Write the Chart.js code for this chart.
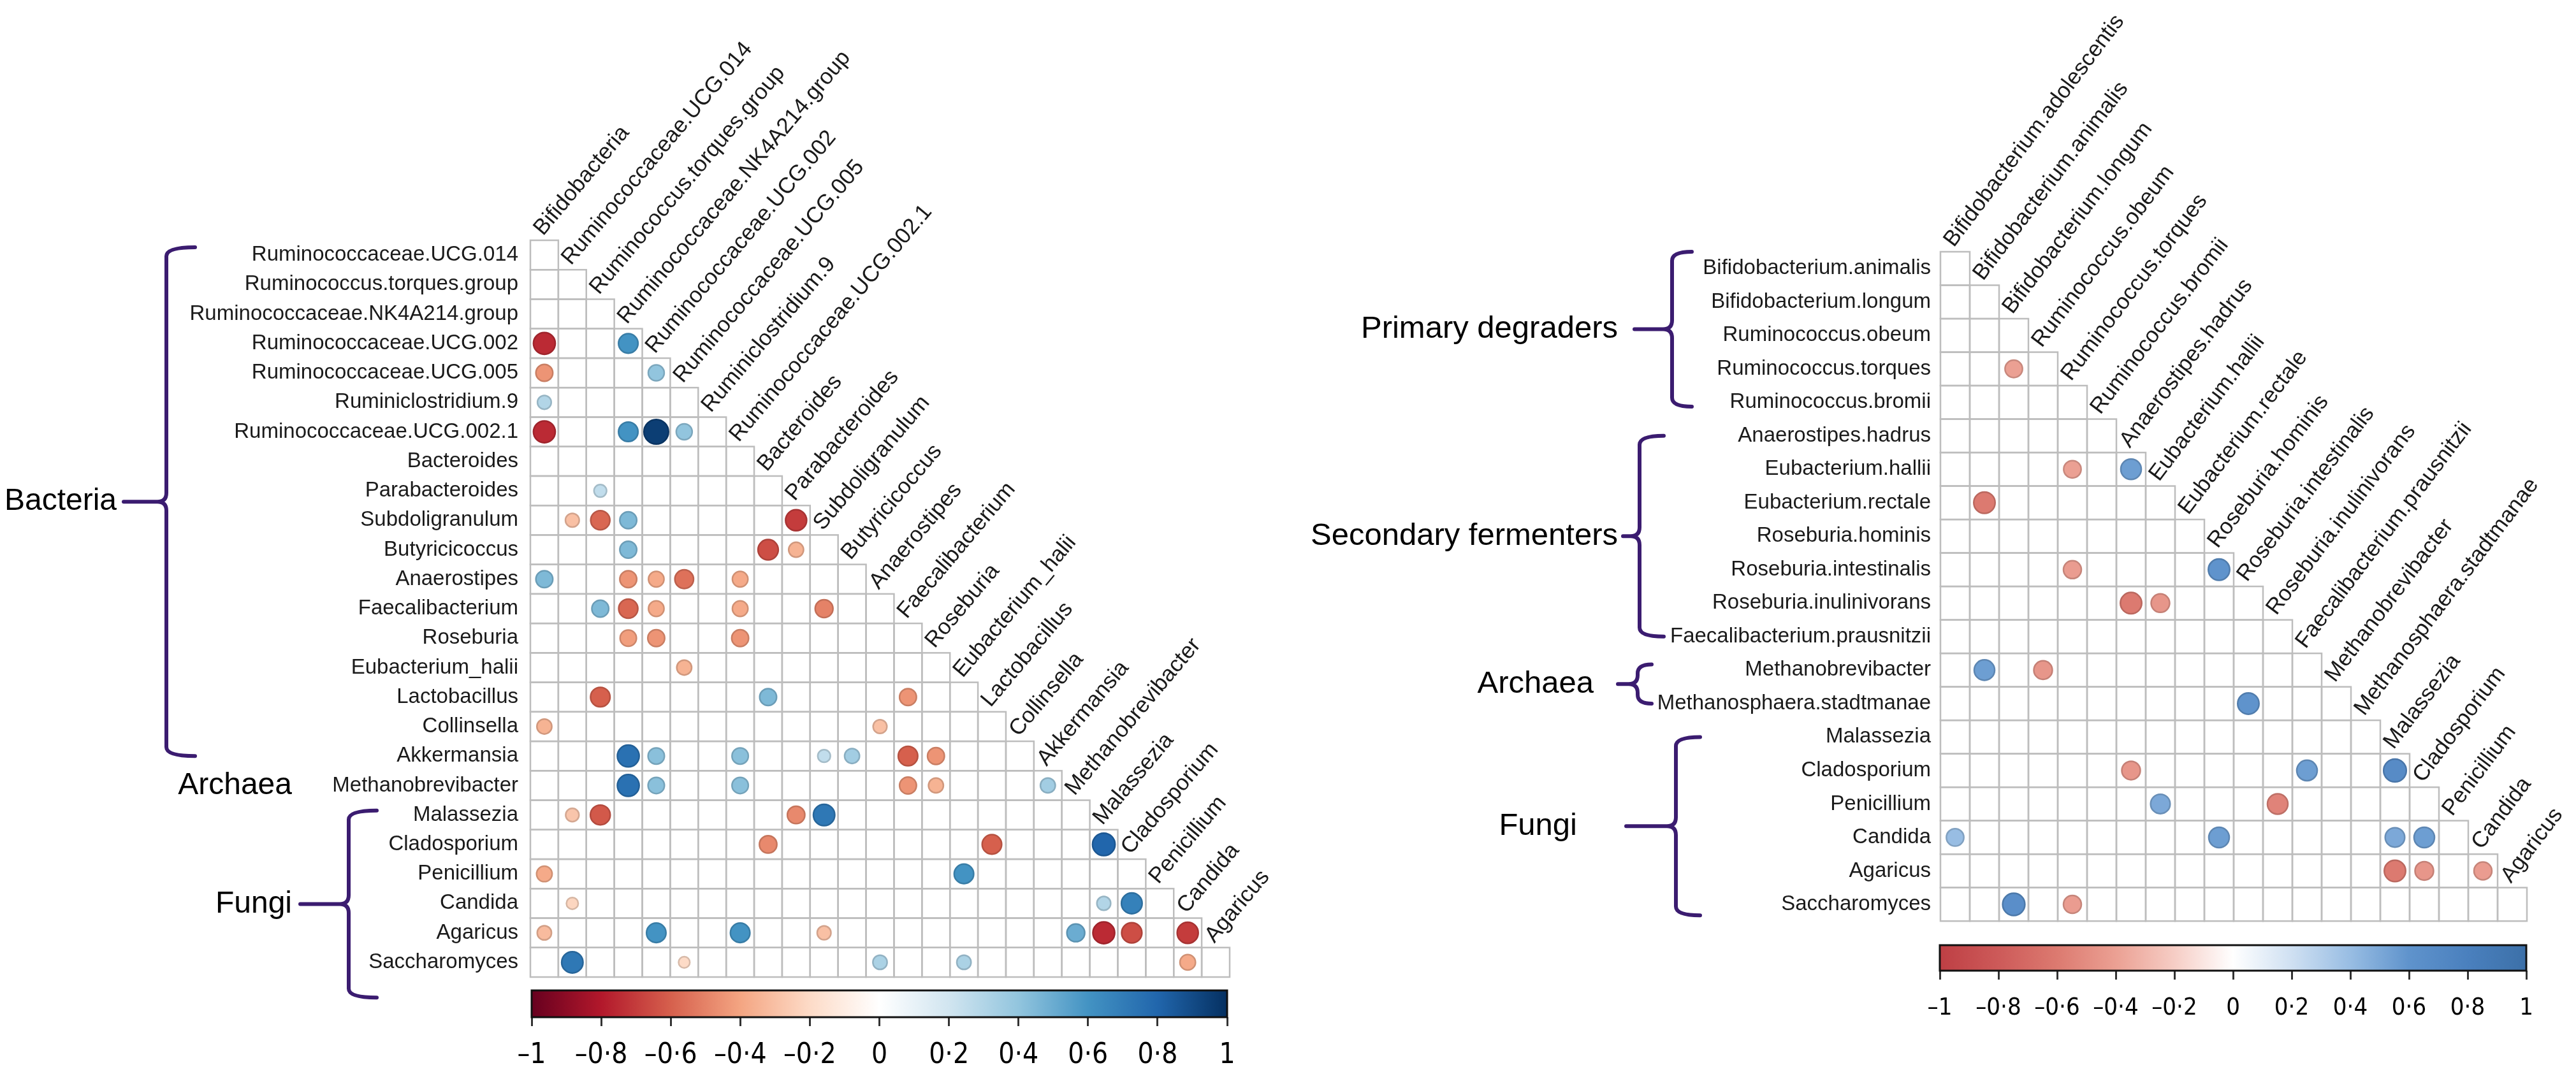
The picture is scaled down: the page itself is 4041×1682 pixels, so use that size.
<!DOCTYPE html>
<html>
<head>
<meta charset="utf-8">
<title>Correlation matrices</title>
<script src="https://cdn.jsdelivr.net/npm/chart.js"></script>
<style>
  html, body { margin: 0; padding: 0; background: #fff; }
  body { width: 4041px; height: 1682px; position: relative; overflow: hidden; }
  canvas { position: absolute; }
</style>
</head>
<body>
<canvas id="leftMatrix"></canvas>
<canvas id="rightMatrix"></canvas>
<canvas id="leftBar"></canvas>
<canvas id="rightBar"></canvas>
<script>
// ---------- data: left panel (genus level) ----------
const leftCols = [
  'Bifidobacteria', 'Ruminococcaceae.UCG.014', 'Ruminococcus.torques.group',
  'Ruminococcaceae.NK4A214.group', 'Ruminococcaceae.UCG.002', 'Ruminococcaceae.UCG.005',
  'Ruminiclostridium.9', 'Ruminococcaceae.UCG.002.1', 'Bacteroides', 'Parabacteroides',
  'Subdoligranulum', 'Butyricicoccus', 'Anaerostipes', 'Faecalibacterium', 'Roseburia',
  'Eubacterium_halii', 'Lactobacillus', 'Collinsella', 'Akkermansia', 'Methanobrevibacter',
  'Malassezia', 'Cladosporium', 'Penicillium', 'Candida', 'Agaricus'
];
const leftRows = [
  'Ruminococcaceae.UCG.014', 'Ruminococcus.torques.group', 'Ruminococcaceae.NK4A214.group',
  'Ruminococcaceae.UCG.002', 'Ruminococcaceae.UCG.005', 'Ruminiclostridium.9',
  'Ruminococcaceae.UCG.002.1', 'Bacteroides', 'Parabacteroides', 'Subdoligranulum',
  'Butyricicoccus', 'Anaerostipes', 'Faecalibacterium', 'Roseburia', 'Eubacterium_halii',
  'Lactobacillus', 'Collinsella', 'Akkermansia', 'Methanobrevibacter', 'Malassezia',
  'Cladosporium', 'Penicillium', 'Candida', 'Agaricus', 'Saccharomyces'
];
// [row, column, correlation]
const leftCorr = [
  ['Ruminococcaceae.UCG.002', 'Bifidobacteria', -0.75],
  ['Ruminococcaceae.UCG.002', 'Ruminococcaceae.NK4A214.group', 0.6],
  ['Ruminococcaceae.UCG.005', 'Bifidobacteria', -0.45],
  ['Ruminococcaceae.UCG.005', 'Ruminococcaceae.UCG.002', 0.4],
  ['Ruminiclostridium.9', 'Bifidobacteria', 0.3],
  ['Ruminococcaceae.UCG.002.1', 'Bifidobacteria', -0.75],
  ['Ruminococcaceae.UCG.002.1', 'Ruminococcaceae.NK4A214.group', 0.6],
  ['Ruminococcaceae.UCG.002.1', 'Ruminococcaceae.UCG.002', 0.95],
  ['Ruminococcaceae.UCG.002.1', 'Ruminococcaceae.UCG.005', 0.4],
  ['Parabacteroides', 'Ruminococcus.torques.group', 0.25],
  ['Subdoligranulum', 'Ruminococcaceae.UCG.014', -0.3],
  ['Subdoligranulum', 'Ruminococcus.torques.group', -0.58],
  ['Subdoligranulum', 'Ruminococcaceae.NK4A214.group', 0.45],
  ['Subdoligranulum', 'Parabacteroides', -0.7],
  ['Butyricicoccus', 'Ruminococcaceae.NK4A214.group', 0.45],
  ['Butyricicoccus', 'Bacteroides', -0.65],
  ['Butyricicoccus', 'Parabacteroides', -0.35],
  ['Anaerostipes', 'Bifidobacteria', 0.45],
  ['Anaerostipes', 'Ruminococcaceae.NK4A214.group', -0.45],
  ['Anaerostipes', 'Ruminococcaceae.UCG.002', -0.38],
  ['Anaerostipes', 'Ruminococcaceae.UCG.005', -0.55],
  ['Anaerostipes', 'Ruminococcaceae.UCG.002.1', -0.38],
  ['Faecalibacterium', 'Ruminococcus.torques.group', 0.45],
  ['Faecalibacterium', 'Ruminococcaceae.NK4A214.group', -0.58],
  ['Faecalibacterium', 'Ruminococcaceae.UCG.002', -0.38],
  ['Faecalibacterium', 'Ruminococcaceae.UCG.002.1', -0.38],
  ['Faecalibacterium', 'Subdoligranulum', -0.5],
  ['Roseburia', 'Ruminococcaceae.NK4A214.group', -0.42],
  ['Roseburia', 'Ruminococcaceae.UCG.002', -0.45],
  ['Roseburia', 'Ruminococcaceae.UCG.002.1', -0.45],
  ['Eubacterium_halii', 'Ruminococcaceae.UCG.005', -0.35],
  ['Lactobacillus', 'Ruminococcus.torques.group', -0.6],
  ['Lactobacillus', 'Bacteroides', 0.45],
  ['Lactobacillus', 'Faecalibacterium', -0.45],
  ['Collinsella', 'Bifidobacteria', -0.35],
  ['Collinsella', 'Anaerostipes', -0.3],
  ['Akkermansia', 'Ruminococcaceae.NK4A214.group', 0.75],
  ['Akkermansia', 'Ruminococcaceae.UCG.002', 0.42],
  ['Akkermansia', 'Ruminococcaceae.UCG.002.1', 0.42],
  ['Akkermansia', 'Subdoligranulum', 0.25],
  ['Akkermansia', 'Butyricicoccus', 0.35],
  ['Akkermansia', 'Faecalibacterium', -0.6],
  ['Akkermansia', 'Roseburia', -0.45],
  ['Methanobrevibacter', 'Ruminococcaceae.NK4A214.group', 0.75],
  ['Methanobrevibacter', 'Ruminococcaceae.UCG.002', 0.42],
  ['Methanobrevibacter', 'Ruminococcaceae.UCG.002.1', 0.42],
  ['Methanobrevibacter', 'Faecalibacterium', -0.45],
  ['Methanobrevibacter', 'Roseburia', -0.35],
  ['Methanobrevibacter', 'Akkermansia', 0.35],
  ['Malassezia', 'Ruminococcaceae.UCG.014', -0.28],
  ['Malassezia', 'Ruminococcus.torques.group', -0.62],
  ['Malassezia', 'Parabacteroides', -0.48],
  ['Malassezia', 'Subdoligranulum', 0.72],
  ['Cladosporium', 'Bacteroides', -0.48],
  ['Cladosporium', 'Lactobacillus', -0.6],
  ['Cladosporium', 'Malassezia', 0.8],
  ['Penicillium', 'Bifidobacteria', -0.38],
  ['Penicillium', 'Eubacterium_halii', 0.6],
  ['Candida', 'Ruminococcaceae.UCG.014', -0.22],
  ['Candida', 'Malassezia', 0.3],
  ['Candida', 'Cladosporium', 0.68],
  ['Agaricus', 'Bifidobacteria', -0.32],
  ['Agaricus', 'Ruminococcaceae.UCG.002', 0.6],
  ['Agaricus', 'Ruminococcaceae.UCG.002.1', 0.6],
  ['Agaricus', 'Subdoligranulum', -0.3],
  ['Agaricus', 'Methanobrevibacter', 0.5],
  ['Agaricus', 'Malassezia', -0.75],
  ['Agaricus', 'Cladosporium', -0.65],
  ['Agaricus', 'Candida', -0.7],
  ['Saccharomyces', 'Ruminococcaceae.UCG.014', 0.72],
  ['Saccharomyces', 'Ruminococcaceae.UCG.005', -0.2],
  ['Saccharomyces', 'Anaerostipes', 0.32],
  ['Saccharomyces', 'Eubacterium_halii', 0.32],
  ['Saccharomyces', 'Candida', -0.38]
];
const leftGroups = [
  { label: 'Bacteria', from: 'Ruminococcaceae.UCG.014', to: 'Akkermansia' },
  { label: 'Archaea', from: 'Methanobrevibacter', to: 'Methanobrevibacter' },
  { label: 'Fungi', from: 'Malassezia', to: 'Saccharomyces' }
];

// ---------- data: right panel (species level) ----------
const rightCols = [
  'Bifidobacterium.adolescentis', 'Bifidobacterium.animalis', 'Bifidobacterium.longum',
  'Ruminococcus.obeum', 'Ruminococcus.torques', 'Ruminococcus.bromii', 'Anaerostipes.hadrus',
  'Eubacterium.hallii', 'Eubacterium.rectale', 'Roseburia.hominis', 'Roseburia.intestinalis',
  'Roseburia.inulinivorans', 'Faecalibacterium.prausnitzii', 'Methanobrevibacter',
  'Methanosphaera.stadtmanae', 'Malassezia', 'Cladosporium', 'Penicillium', 'Candida', 'Agaricus'
];
const rightRows = [
  'Bifidobacterium.animalis', 'Bifidobacterium.longum', 'Ruminococcus.obeum',
  'Ruminococcus.torques', 'Ruminococcus.bromii', 'Anaerostipes.hadrus', 'Eubacterium.hallii',
  'Eubacterium.rectale', 'Roseburia.hominis', 'Roseburia.intestinalis', 'Roseburia.inulinivorans',
  'Faecalibacterium.prausnitzii', 'Methanobrevibacter', 'Methanosphaera.stadtmanae',
  'Malassezia', 'Cladosporium', 'Penicillium', 'Candida', 'Agaricus', 'Saccharomyces'
];
const rightCorr = [
  ['Ruminococcus.torques', 'Bifidobacterium.longum', -0.4],
  ['Eubacterium.hallii', 'Ruminococcus.torques', -0.4],
  ['Eubacterium.hallii', 'Anaerostipes.hadrus', 0.55],
  ['Eubacterium.rectale', 'Bifidobacterium.animalis', -0.6],
  ['Roseburia.intestinalis', 'Ruminococcus.torques', -0.42],
  ['Roseburia.intestinalis', 'Roseburia.hominis', 0.6],
  ['Roseburia.inulinivorans', 'Anaerostipes.hadrus', -0.6],
  ['Roseburia.inulinivorans', 'Eubacterium.hallii', -0.45],
  ['Methanobrevibacter', 'Bifidobacterium.animalis', 0.55],
  ['Methanobrevibacter', 'Ruminococcus.obeum', -0.45],
  ['Methanosphaera.stadtmanae', 'Roseburia.intestinalis', 0.6],
  ['Cladosporium', 'Anaerostipes.hadrus', -0.45],
  ['Cladosporium', 'Faecalibacterium.prausnitzii', 0.55],
  ['Cladosporium', 'Malassezia', 0.68],
  ['Penicillium', 'Eubacterium.hallii', 0.5],
  ['Penicillium', 'Roseburia.inulinivorans', -0.55],
  ['Candida', 'Bifidobacterium.adolescentis', 0.4],
  ['Candida', 'Roseburia.hominis', 0.55],
  ['Candida', 'Malassezia', 0.5],
  ['Candida', 'Cladosporium', 0.55],
  ['Agaricus', 'Malassezia', -0.6],
  ['Agaricus', 'Cladosporium', -0.45],
  ['Agaricus', 'Candida', -0.42],
  ['Saccharomyces', 'Bifidobacterium.longum', 0.65],
  ['Saccharomyces', 'Ruminococcus.torques', -0.42]
];
const rightGroups = [
  { label: 'Primary degraders', from: 'Bifidobacterium.animalis', to: 'Ruminococcus.bromii' },
  { label: 'Secondary fermenters', from: 'Anaerostipes.hadrus', to: 'Faecalibacterium.prausnitzii' },
  { label: 'Archaea', from: 'Methanobrevibacter', to: 'Methanosphaera.stadtmanae' },
  { label: 'Fungi', from: 'Malassezia', to: 'Saccharomyces' }
];

// colour bar ticks
const barTicks = [-1, -0.8, -0.6, -0.4, -0.2, 0, 0.2, 0.4, 0.6, 0.8, 1];
const barTickLabels = ['\u20131', '\u20130\u00b78', '\u20130\u00b76', '\u20130\u00b74', '\u20130\u00b72', '0',
  '0\u00b72', '0\u00b74', '0\u00b76', '0\u00b78', '1'];

// ---------- styles ----------
const FONT = "'Liberation Sans', Arial, sans-serif";
const NARROW = "'Liberation Sans Narrow', 'Arial Narrow', 'DejaVu Sans Condensed', sans-serif";
const BRACE = '#3b1c70';

const rdbu = ['#67001F', '#B2182B', '#D6604D', '#F4A582', '#FDDBC7', '#FFFFFF',
  '#D1E5F0', '#92C5DE', '#4393C3', '#2166AC', '#053061'].map((c, i) => [-1 + i * 0.2, c]);
const softRdBu = ['#BE3F44', '#CD5A59', '#DC7A70', '#EBA093', '#F6CDC5', '#FFFFFF',
  '#CFE0F2', '#98BDE3', '#5F93CC', '#4A80BE', '#3C70A8'].map((c, i) => [-1 + i * 0.2, c]);

const leftLayout = {
  canvas: { left: 0, top: 0, width: 2000, height: 1600 },
  grid: { left: 832, top: 377, right: 1929, bottom: 1533 },
  rowFont: 33, colFont: 35, colAngle: 50, labelGap: 19, radiusK: 0.45, palette: rdbu,
  colDx: -2, colDy: -6, groupFont: 48,
  braces: {
    Bacteria: { x: 261, hook: 45, tip: 194, text: 183, padTop: 0.26, padBot: 0 },
    Archaea: { text: 458 },
    Fungi: { x: 547, hook: 44, tip: 471, text: 458, padTop: 0.15, padBot: 1.2 }
  }
};
const rightLayout = {
  canvas: { left: 2020, top: 0, width: 2021, height: 1480 },
  grid: { left: 1024, top: 395, right: 1944, bottom: 1470 },
  rowFont: 33, colFont: 35, colAngle: 53, labelGap: 15, radiusK: 0.47, palette: softRdBu,
  colDx: -2, colDy: -6, groupFont: 49,
  braces: {
    'Primary degraders': { x: 603, hook: 31, tip: 544, text: 518, padTop: 0.5, padBot: 0.13 },
    'Secondary fermenters': { x: 552, hook: 38, tip: 526, text: 518, padTop: 0, padBot: 0 },
    'Archaea': { x: 549, hook: 22, tip: 518, text: 480, padTop: 0.17, padBot: 0 },
    'Fungi': { x: 609, hook: 38, tip: 531, text: 454, padTop: 0, padBot: 0.33 }
  }
};

// ---------- helpers ----------
function hexRgb(h) {
  return [1, 3, 5].map(i => parseInt(h.slice(i, i + 2), 16));
}
function colorFor(pal, v, shade = 1) {
  for (let i = 1; i < pal.length; i++) {
    if (v <= pal[i][0] || i === pal.length - 1) {
      const [v0, c0] = pal[i - 1], [v1, c1] = pal[i];
      const t = Math.max(0, Math.min(1, (v - v0) / (v1 - v0)));
      const a = hexRgb(c0), b = hexRgb(c1);
      const rgb = a.map((x, k) => Math.round((x + (b[k] - x) * t) * shade));
      return `rgb(${rgb.join(',')})`;
    }
  }
}
function placeCanvas(id, box) {
  const el = document.getElementById(id);
  el.width = box.width; el.height = box.height;
  el.style.left = box.left + 'px'; el.style.top = box.top + 'px';
  el.style.width = box.width + 'px'; el.style.height = box.height + 'px';
  return el;
}
function drawBrace(ctx, x, top, bot, hook, tip) {
  const mid = (top + bot) / 2, r = Math.min(14, (bot - top) / 4);
  ctx.beginPath();
  ctx.moveTo(x + hook, top);
  ctx.quadraticCurveTo(x, top, x, top + r);
  ctx.lineTo(x, mid - r);
  ctx.quadraticCurveTo(x, mid, x - r, mid);
  ctx.lineTo(tip, mid);
  ctx.moveTo(x - r, mid);
  ctx.quadraticCurveTo(x, mid, x, mid + r);
  ctx.lineTo(x, bot - r);
  ctx.quadraticCurveTo(x, bot, x + hook, bot);
  ctx.stroke();
}

// grid cells, diagonal column labels and group braces
function matrixPlugin(cols, rows, groups, L) {
  return {
    id: 'matrix',
    beforeDatasetsDraw(chart) {
      const { ctx } = chart;
      const xs = chart.scales.x, ys = chart.scales.y;
      const cw = xs.width / cols.length, rh = ys.height / rows.length;
      ctx.save();
      ctx.strokeStyle = '#bdbdbd';
      ctx.lineWidth = 2.5;
      rows.forEach((r, i) => {
        const cy = ys.getPixelForValue(i);
        for (let j = 0; j <= i && j < cols.length; j++) {
          const cx = xs.getPixelForValue(j);
          ctx.strokeRect(cx - cw / 2, cy - rh / 2, cw, rh);
        }
      });

      ctx.fillStyle = '#1a1a1a';
      ctx.font = `${L.colFont}px ${FONT}`;
      ctx.textAlign = 'left';
      ctx.textBaseline = 'alphabetic';
      cols.forEach((c, j) => {
        const x = xs.getPixelForValue(j) + L.colDx;
        const y = ys.getPixelForValue(j) - rh / 2 + L.colDy;
        ctx.save();
        ctx.translate(x, y);
        ctx.rotate(-L.colAngle * Math.PI / 180);
        ctx.fillText(c, 0, 0);
        ctx.restore();
      });

      ctx.strokeStyle = BRACE;
      ctx.lineWidth = 6;
      ctx.lineCap = 'round';
      ctx.lineJoin = 'round';
      ctx.font = `${L.groupFont}px ${FONT}`;
      ctx.fillStyle = '#000';
      ctx.textAlign = 'right';
      ctx.textBaseline = 'middle';
      groups.forEach(g => {
        const b = L.braces[g.label];
        const i0 = rows.indexOf(g.from), i1 = rows.indexOf(g.to);
        const top = ys.getPixelForValue(i0) - b.padTop * rh;
        const bot = ys.getPixelForValue(i1) + b.padBot * rh;
        let mid = (ys.getPixelForValue(i0) + ys.getPixelForValue(i1)) / 2;
        if (b.x !== undefined) {
          drawBrace(ctx, b.x, top, bot, b.hook, b.tip);
          mid = (top + bot) / 2;
        }
        ctx.fillText(g.label, b.text, mid);
      });
      ctx.restore();
    }
  };
}

function matrixChart(id, cols, rows, corr, groups, L) {
  const el = placeCanvas(id, L.canvas);
  const C = L.canvas, G = L.grid;
  const radius = ctx => {
    if (!ctx.raw) return 0;
    const cw = ctx.chart.scales.x.width / cols.length;
    return L.radiusK * cw * Math.sqrt(Math.abs(ctx.raw.v));
  };
  return new Chart(el, {
    type: 'scatter',
    data: {
      datasets: [{
        data: corr.map(([r, c, v]) => ({ x: c, y: r, v })),
        pointStyle: 'circle',
        pointRadius: radius,
        backgroundColor: ctx => ctx.raw ? colorFor(L.palette, ctx.raw.v) : '#fff',
        borderColor: ctx => ctx.raw ? colorFor(L.palette, ctx.raw.v, 0.85) : '#fff',
        borderWidth: 2.5
      }]
    },
    options: {
      responsive: false,
      animation: false,
      devicePixelRatio: 1,
      events: [],
      layout: { padding: { left: 0, top: G.top, right: C.width - G.right, bottom: C.height - G.bottom } },
      plugins: { legend: { display: false }, tooltip: { enabled: false } },
      scales: {
        x: { type: 'category', labels: cols, offset: true, display: false },
        y: {
          type: 'category', labels: rows, offset: true,
          afterFit: s => { s.width = G.left; },
          grid: { display: false, drawTicks: false },
          border: { display: false },
          ticks: { autoSkip: false, padding: L.labelGap, color: '#1a1a1a',
                   font: { family: FONT, size: L.rowFont } }
        }
      }
    },
    plugins: [matrixPlugin(cols, rows, groups, L)]
  });
}

function colorBarChart(id, box, bar, palette, fontSize, pad) {
  const el = placeCanvas(id, box);
  return new Chart(el, {
    type: 'scatter',
    data: { datasets: [] },
    options: {
      responsive: false,
      animation: false,
      devicePixelRatio: 1,
      events: [],
      layout: { padding: { left: bar.left, top: bar.top, right: box.width - bar.right, bottom: 0 } },
      plugins: { legend: { display: false }, tooltip: { enabled: false } },
      scales: {
        x: {
          type: 'linear', min: -1, max: 1, position: 'bottom',
          afterFit: s => { s.height = box.height - bar.bottom; },
          afterBuildTicks: s => { s.ticks = barTicks.map(v => ({ value: v })); },
          grid: { drawOnChartArea: false, drawTicks: true, tickLength: 14, color: '#333', lineWidth: 3 },
          border: { display: false },
          ticks: { autoSkip: false, maxRotation: 0, padding: pad, color: '#000',
                   font: { family: NARROW, size: fontSize },
                   callback: (v, i) => barTickLabels[i] }
        },
        y: { display: false, min: 0, max: 1 }
      }
    },
    plugins: [{
      id: 'gradient',
      beforeDatasetsDraw(chart) {
        const { ctx, chartArea: a, scales: { x } } = chart;
        const g = ctx.createLinearGradient(x.getPixelForValue(-1), 0, x.getPixelForValue(1), 0);
        palette.forEach(([v, c]) => g.addColorStop((v + 1) / 2, c));
        ctx.save();
        ctx.fillStyle = g;
        ctx.fillRect(a.left, a.top, a.width, a.height);
        ctx.strokeStyle = '#111';
        ctx.lineWidth = 3;
        ctx.strokeRect(a.left, a.top, a.width, a.height);
        ctx.restore();
      }
    }]
  });
}

matrixChart('leftMatrix', leftCols, leftRows, leftCorr, leftGroups, leftLayout);
matrixChart('rightMatrix', rightCols, rightRows, rightCorr, rightGroups, rightLayout);
colorBarChart('leftBar', { left: 0, top: 1540, width: 2000, height: 142 },
  { left: 834, right: 1925, top: 14, bottom: 56 }, rdbu, 44, 20);
colorBarChart('rightBar', { left: 2020, top: 1470, width: 2021, height: 212 },
  { left: 1023, right: 1943, top: 13, bottom: 53 }, softRdBu, 38, 22);
</script>
</body>
</html>
